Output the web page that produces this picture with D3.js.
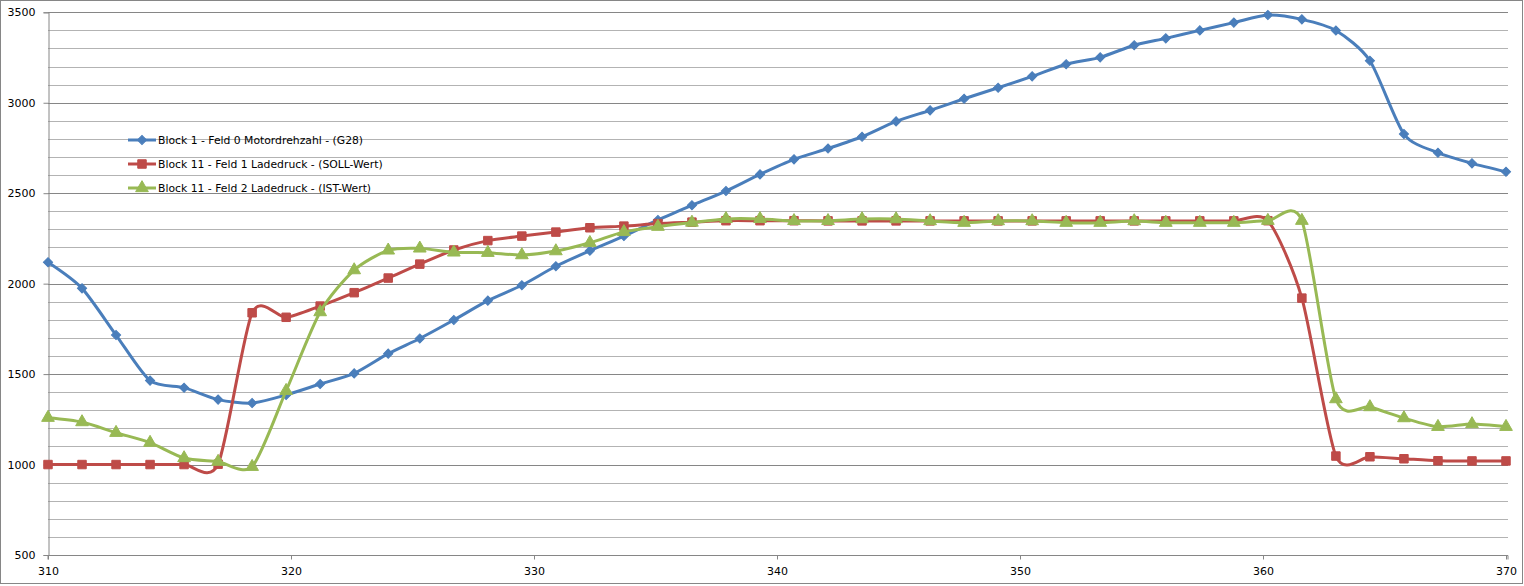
<!DOCTYPE html>
<html>
<head>
<meta charset="utf-8">
<script src="https://cdn.jsdelivr.net/npm/d3@7"></script>
<style>
  html, body { margin: 0; padding: 0; background: #fff; }
  svg { display: block; }
  text { font-family: "DejaVu Sans", Verdana, sans-serif; }
</style>
</head>
<body>
<svg id="chart" width="1524" height="586"></svg>
<script>
// ---- data ----
const xValues = [310.0, 311.4, 312.8, 314.2, 315.6, 317.0, 318.4, 319.8, 321.2, 322.6,
  324.0, 325.3, 326.7, 328.1, 329.5, 330.9, 332.3, 333.7, 335.1, 336.5,
  337.9, 339.3, 340.7, 342.1, 343.5, 344.9, 346.3, 347.7, 349.1, 350.5,
  351.9, 353.3, 354.7, 356.0, 357.4, 358.8, 360.2, 361.6, 363.0, 364.4,
  365.8, 367.2, 368.6, 370.0];

const motordrehzahl = [2118, 1974, 1716, 1464, 1425, 1359, 1340, 1385, 1445, 1504,
  1613, 1697, 1799, 1906, 1991, 2096, 2182, 2263, 2352, 2433,
  2512, 2604, 2687, 2747, 2812, 2897, 2958, 3022, 3083, 3146,
  3213, 3251, 3318, 3356, 3400, 3443, 3485, 3461, 3399, 3232,
  2827, 2724, 2665, 2619];

const ladedruckSoll = [1000, 1000, 1000, 1000, 1000, 1002, 1839, 1814, 1876, 1950,
  2031, 2108, 2186, 2238, 2263, 2285, 2309, 2318, 2332, 2340,
  2348, 2348, 2348, 2347, 2347, 2347, 2347, 2347, 2347, 2347,
  2347, 2347, 2347, 2347, 2347, 2347, 2348, 1920, 1047, 1043,
  1032, 1021, 1020, 1020];

const ladedruckIst = [1259, 1235, 1176, 1121, 1036, 1016, 988, 1408, 1843, 2075,
  2184, 2195, 2173, 2171, 2158, 2180, 2226, 2286, 2315, 2338,
  2358, 2358, 2347, 2347, 2357, 2357, 2346, 2337, 2346, 2346,
  2337, 2337, 2346, 2337, 2337, 2337, 2348, 2348, 1362, 1318,
  1257, 1209, 1224, 1209];

const seriesNames = [
  "Block 1 - Feld 0 Motordrehzahl - (G28)",
  "Block 11 - Feld 1 Ladedruck - (SOLL-Wert)",
  "Block 11 - Feld 2 Ladedruck - (IST-Wert)"
];
const yTicks = [500, 1000, 1500, 2000, 2500, 3000, 3500];
const xTicks = [310, 320, 330, 340, 350, 360, 370];

// ---- layout ----
const W = 1524, H = 586;
const pLeft = 48, pRight = 1506, pTop = 12.3, pBottom = 555;
const svg = d3.select("#chart");

const x = d3.scaleLinear().domain([310, 370]).range([pLeft, pRight]);
const y = d3.scaleLinear().domain([500, 3500]).range([pBottom, pTop]);

// outer border
svg.append("rect").attr("x", 0.5).attr("y", 0.5).attr("width", W - 2).attr("height", H - 3)
  .attr("fill", "#fff").attr("stroke", "#868686").attr("stroke-width", 1);

// minor gridlines (every 100)
const minor = d3.range(600, 3500, 100).filter(v => v % 500 !== 0);
svg.append("g").selectAll("line").data(minor).join("line")
  .attr("x1", pLeft).attr("x2", pRight + 2)
  .attr("y1", d => Math.round(y(d)) + 0.5).attr("y2", d => Math.round(y(d)) + 0.5)
  .attr("stroke", "#b3b3b3").attr("stroke-width", 1);

// major gridlines
svg.append("g").selectAll("line").data(yTicks.filter(v => v > 500)).join("line")
  .attr("x1", pLeft).attr("x2", pRight + 2)
  .attr("y1", d => Math.round(y(d)) + 0.5).attr("y2", d => Math.round(y(d)) + 0.5)
  .attr("stroke", "#868686").attr("stroke-width", 1);

// y axis
const yAxis = d3.axisLeft(y).tickValues(yTicks).tickSize(5).tickPadding(8).tickFormat(d3.format("d"));
const gy = svg.append("g").attr("transform", `translate(${pLeft + 0.5},0)`).call(yAxis);
gy.select(".domain").attr("stroke", "#868686");
gy.selectAll(".tick line").attr("stroke", "#868686");
gy.selectAll(".tick text").attr("font-size", 11).attr("fill", "#000")
  .attr("font-family", "DejaVu Sans, sans-serif");

// x axis
const xAxis = d3.axisBottom(x).tickValues(xTicks).tickSize(4).tickPadding(8).tickFormat(d3.format("d"));
const gx = svg.append("g").attr("transform", `translate(0,${Math.round(pBottom) + 0.5})`).call(xAxis);
gx.select(".domain").attr("stroke", "#868686").attr("d", `M${pLeft},4V0H${pRight + 2}V4`);
gx.selectAll(".tick line").attr("stroke", "#868686");
gx.selectAll(".tick text").attr("font-size", 11).attr("fill", "#000")
  .attr("font-family", "DejaVu Sans, sans-serif");

// ---- series ----
const colors = ["#4A7EBB", "#BE4B48", "#98B954"];
const series = [motordrehzahl, ladedruckSoll, ladedruckIst];
const curve = d3.curveCardinal.tension(0.25);
const line = d3.line().x((d, i) => x(xValues[i])).y(d => y(d)).curve(curve);

const symbols = [
  d3.symbol().type(d3.symbolSquare).size(42),
  d3.symbol().type(d3.symbolSquare).size(72),
  d3.symbol().type(d3.symbolTriangle).size(70)
];
const rot = k => (k === 0 ? " rotate(45)" : "");

series.forEach((vals, k) => {
  const g = svg.append("g");
  g.append("path").datum(vals).attr("d", line)
    .attr("fill", "none").attr("stroke", colors[k]).attr("stroke-width", 3)
    .attr("stroke-linejoin", "round");
  g.selectAll("path.m").data(vals).join("path").attr("class", "m")
    .attr("d", symbols[k])
    .attr("transform", (d, i) => `translate(${x(xValues[i])},${y(d)})` + rot(k))
    .attr("fill", colors[k]).attr("stroke", colors[k]).attr("stroke-width", 1);
});

// ---- legend ----
const legendY = [140, 164, 188];
const lg = svg.append("g");
seriesNames.forEach((name, k) => {
  lg.append("line").attr("x1", 128).attr("x2", 156).attr("y1", legendY[k]).attr("y2", legendY[k])
    .attr("stroke", colors[k]).attr("stroke-width", 3);
  lg.append("path").attr("d", symbols[k])
    .attr("transform", `translate(142,${legendY[k]})` + rot(k))
    .attr("fill", colors[k]).attr("stroke", colors[k]);
  lg.append("text").attr("x", 158).attr("y", legendY[k] + 4)
    .attr("font-size", 10.8).attr("fill", "#000").text(name);
});
</script>
</body>
</html>
